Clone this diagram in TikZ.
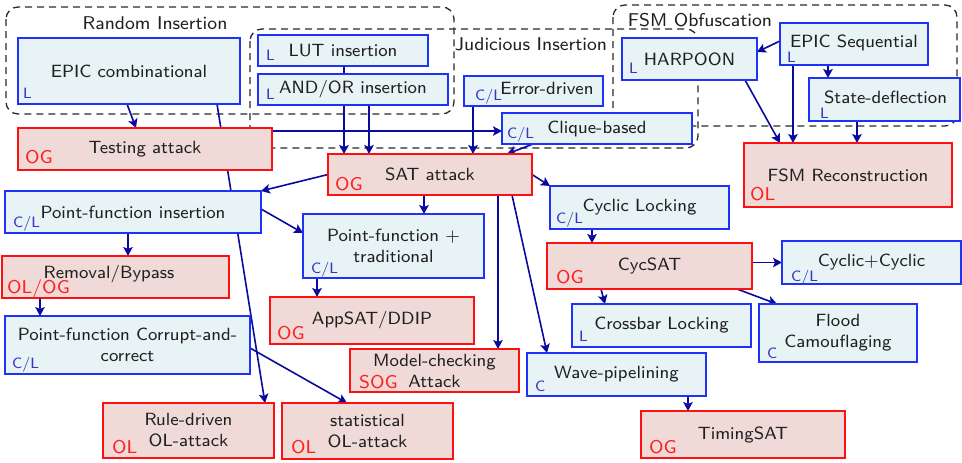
\documentclass[tikz,border=0pt]{standalone}
\usepackage{fontspec}
\setsansfont{lmsans8-regular.otf}
\usetikzlibrary{arrows.meta,backgrounds,calc}
\definecolor{bfill}{HTML}{E8F3F5}
\definecolor{bdraw}{HTML}{1E32FA}
\definecolor{rfill}{HTML}{F0DAD8}
\definecolor{rdraw}{HTML}{FF1010}
\definecolor{edgec}{HTML}{0A0A9E}
\definecolor{txtc}{HTML}{202020}
\definecolor{btag}{HTML}{3535C8}
\definecolor{rtag}{HTML}{FF2020}
\definecolor{framec}{HTML}{2A2A2A}
\newcommand\mainfont{\sffamily\fontsize{17.7}{21}\selectfont}
\newcommand\bx[7]{\node[#1, minimum width={#5-#3}, minimum height={#6-#4}] (#2) at ({(#3+#5)/2},{(#4+#6)/2}) {#7};}
\newcommand\tg[4]{\node[#1, anchor=base west] (#2-tag) at ($(#2.south west)+(#3)$) {#4};}
\tikzset{
  lbox/.style={draw=bdraw, fill=bfill, line width=2pt, inner sep=0pt, outer sep=0pt, text=txtc, align=center, font=\mainfont},
  rbox/.style={draw=rdraw, fill=rfill, line width=2pt, inner sep=0pt, outer sep=0pt, text=txtc, align=center, font=\mainfont},
  ltag/.style={inner sep=0pt, text=btag, font=\sffamily\fontsize{15}{17}\selectfont},
  rtg/.style={inner sep=0pt, text=rtag, font=\sffamily\fontsize{18.5}{20}\selectfont},
  arr/.style={draw=edgec, line width=1.6pt, -{Stealth[length=9pt,width=9.5pt,inset=2pt]}},
  frame/.style={draw=framec, line width=1.3pt, dash pattern=on 7pt off 5pt, rounded corners=12pt},
  flabel/.style={inner sep=0pt, text=txtc, font=\sffamily\fontsize{18.5}{21}\selectfont}
}
\begin{document}
\begin{tikzpicture}[x=1pt,y=-1pt]
\useasboundingbox (0,0) rectangle (962,463);
% nodes
\bx{lbox}{epicc}{18}{38}{240}{104}{EPIC combinational}
\bx{lbox}{lut}{258}{35}{428}{66}{LUT insertion}
\bx{lbox}{andor}{258}{74}{448}{105}{AND/OR insertion}
\bx{lbox}{err}{464}{76}{603}{106}{\raisebox{6pt}{\hspace*{27pt}Error-driven}}
\bx{lbox}{clique}{502}{113}{692}{144}{Clique-based}
\bx{rbox}{tst}{18}{128}{272}{170}{Testing attack}
\bx{rbox}{sat}{328}{154}{532}{195}{SAT attack}
\bx{lbox}{harp}{622}{38}{757}{80}{HARPOON}
\bx{lbox}{epics}{780}{23}{928}{65}{\raisebox{5pt}{EPIC Sequential}}
\bx{lbox}{sd}{809}{78}{960}{121}{\raisebox{4pt}{\hspace*{2pt}State-deflection}}
\bx{rbox}{fsm}{744}{143}{952}{207}{FSM Reconstruction}
\bx{lbox}{pfi}{5}{191}{261}{233}{Point-function insertion}
\bx{rbox}{rem}{2}{256}{229}{298}{\raisebox{10pt}{Removal/Bypass\hspace*{13pt}}}
\bx{lbox}{pfc}{5}{316}{250}{374}{Point-function Corrupt-and-\\correct}
\bx{rbox}{rule}{103}{403}{274}{458}{Rule-driven\\OL-attack}
\bx{lbox}{pft}{303}{214}{484}{278}{Point-function +\\traditional}
\bx{rbox}{app}{270}{297}{474}{344}{AppSAT/DDIP}
\bx{rbox}{mc}{350}{349}{519}{392}{Model-checking\\Attack}
\bx{rbox}{stat}{282}{403}{453}{459}{statistical\\OL-attack}
\bx{lbox}{cyc}{550}{186}{729}{229}{Cyclic Locking}
\bx{rbox}{cycsat}{547}{243}{752}{289}{CycSAT}
\bx{lbox}{cc}{782}{241}{961}{284}{Cyclic+Cyclic}
\bx{lbox}{xbar}{572}{304}{751}{347}{Crossbar Locking}
\bx{lbox}{flood}{759}{304}{917}{362}{Flood\\Camouflaging}
\bx{lbox}{wave}{527}{353}{706}{396}{Wave-pipelining}
\bx{rbox}{timing}{641}{411}{845}{458}{TimingSAT}
% tags
\tg{ltag}{epicc}{5,-6}{L}
\tg{ltag}{lut}{8,-6}{L}
\tg{ltag}{andor}{8,-6}{L}
\tg{ltag}{err}{11,-6}{C/L}
\tg{ltag}{clique}{5,-6}{C/L}
\tg{rtg}{tst}{7,-7}{OG}
\tg{rtg}{sat}{7,-5}{OG}
\tg{ltag}{harp}{7,-7}{L}
\tg{ltag}{epics}{7,-3}{L}
\tg{ltag}{sd}{11,-3}{L}
\tg{rtg}{fsm}{6,-7}{OL}
\tg{ltag}{pfi}{8,-6}{C/L}
\tg{rtg}{rem}{5,-5}{OL/OG}
\tg{ltag}{pfc}{7,-6}{C/L}
\tg{rtg}{rule}{9,-5}{OL}
\tg{ltag}{pft}{8,-5}{C/L}
\tg{rtg}{app}{7,-5}{OG}
\tg{rtg}{mc}{9,-4}{SOG}
\tg{rtg}{stat}{9,-6}{OL}
\tg{ltag}{cyc}{6,-6}{C/L}
\tg{rtg}{cycsat}{9,-6}{OG}
\tg{ltag}{cc}{9,-3}{C/L}
\tg{ltag}{xbar}{7,-6}{L}
\tg{ltag}{flood}{8,-4}{C}
\tg{ltag}{wave}{8,-5}{C}
\tg{rtg}{timing}{8,-5}{OG}
% frame labels
\node[flabel] (lrand) at (155,23) {Random Insertion};
\node[flabel] (ljud) at (531,44) {Judicious Insertion};
\node[flabel] (lfsm) at (700,20) {FSM Obfuscation};
\begin{scope}[on background layer]
\draw[frame] (6,7) rectangle (454,114);
\draw[frame] (250,29) rectangle (698,148);
\draw[frame] (613,5) rectangle (957,126);
% connectors
\draw[arr] ([xshift=109pt]epicc.south west) -- ([xshift=118pt]tst.north west);
\draw[arr] ([xshift=199pt]epicc.south west) -- ([xshift=162pt]rule.north west);
\draw[arr] ($(tst.east |- clique.west)+(0,2.5)$) -- ($(clique.west)+(0,2.5)$);
\draw[arr] ([xshift=86pt]lut.south west) -- ([xshift=16pt]sat.north west);
\draw[arr] ([xshift=111pt]andor.south west) -- ([xshift=41pt]sat.north west);
\draw[arr] ([xshift=9pt]err.south west) -- ([xshift=145pt]sat.north west);
\draw[arr] ([xshift=31pt]clique.south west) -- ([xshift=179pt]sat.north west);
\draw[arr] (sat.west) -- (pfi.north east);
\draw[arr] (sat.east) -- (cyc.north west);
\draw[arr] ([xshift=96pt]sat.south west) -- ([xshift=121pt]pft.north west);
\draw[arr] ([xshift=170pt]sat.south west) -- ([xshift=148pt]mc.north west);
\draw[arr] ([xshift=184pt]sat.south west) -- ([xshift=20pt]wave.north west);
\draw[arr] ([yshift=3pt]pfi.east) -- ([yshift=13pt]pft.west);
\draw[arr] ([xshift=123pt]pfi.south west) -- ([xshift=126pt]rem.north west);
\draw[arr] ([xshift=38pt]rem.south west) -- ([xshift=35pt]pfc.north west);
\draw[arr] ([yshift=-3pt]pfc.east) -- ([xshift=65pt]stat.north west);
\draw[arr] ([xshift=14pt]pft.south west) -- ([xshift=47pt]app.north west);
\draw[arr] ([xshift=42pt]cyc.south west) -- ([xshift=45pt]cycsat.north west);
\draw[arr] (cycsat.east |- cc.west) -- (cc.west);
\draw[arr] ([xshift=54pt]cycsat.south west) -- ([xshift=33pt]xbar.north west);
\draw[arr] ([xshift=190pt]cycsat.south west) -- ([xshift=18pt]flood.north west);
\draw[arr] ([xshift=161pt]wave.south west) -- ([xshift=47pt]timing.north west);
\draw[arr] ([yshift=3pt]epics.west) -- ([yshift=7pt]harp.east);
\draw[arr] ([xshift=48pt]epics.south west) -- ([xshift=19pt]sd.north west);
\draw[arr] ([xshift=13pt]epics.south west) -- ([xshift=49pt]fsm.north west);
\draw[arr] ([xshift=123pt]harp.south west) -- ([xshift=36pt]fsm.north west);
\draw[arr] ([xshift=48pt]sd.south west) -- ([xshift=113pt]fsm.north west);
\end{scope}
\end{tikzpicture}
\end{document}
